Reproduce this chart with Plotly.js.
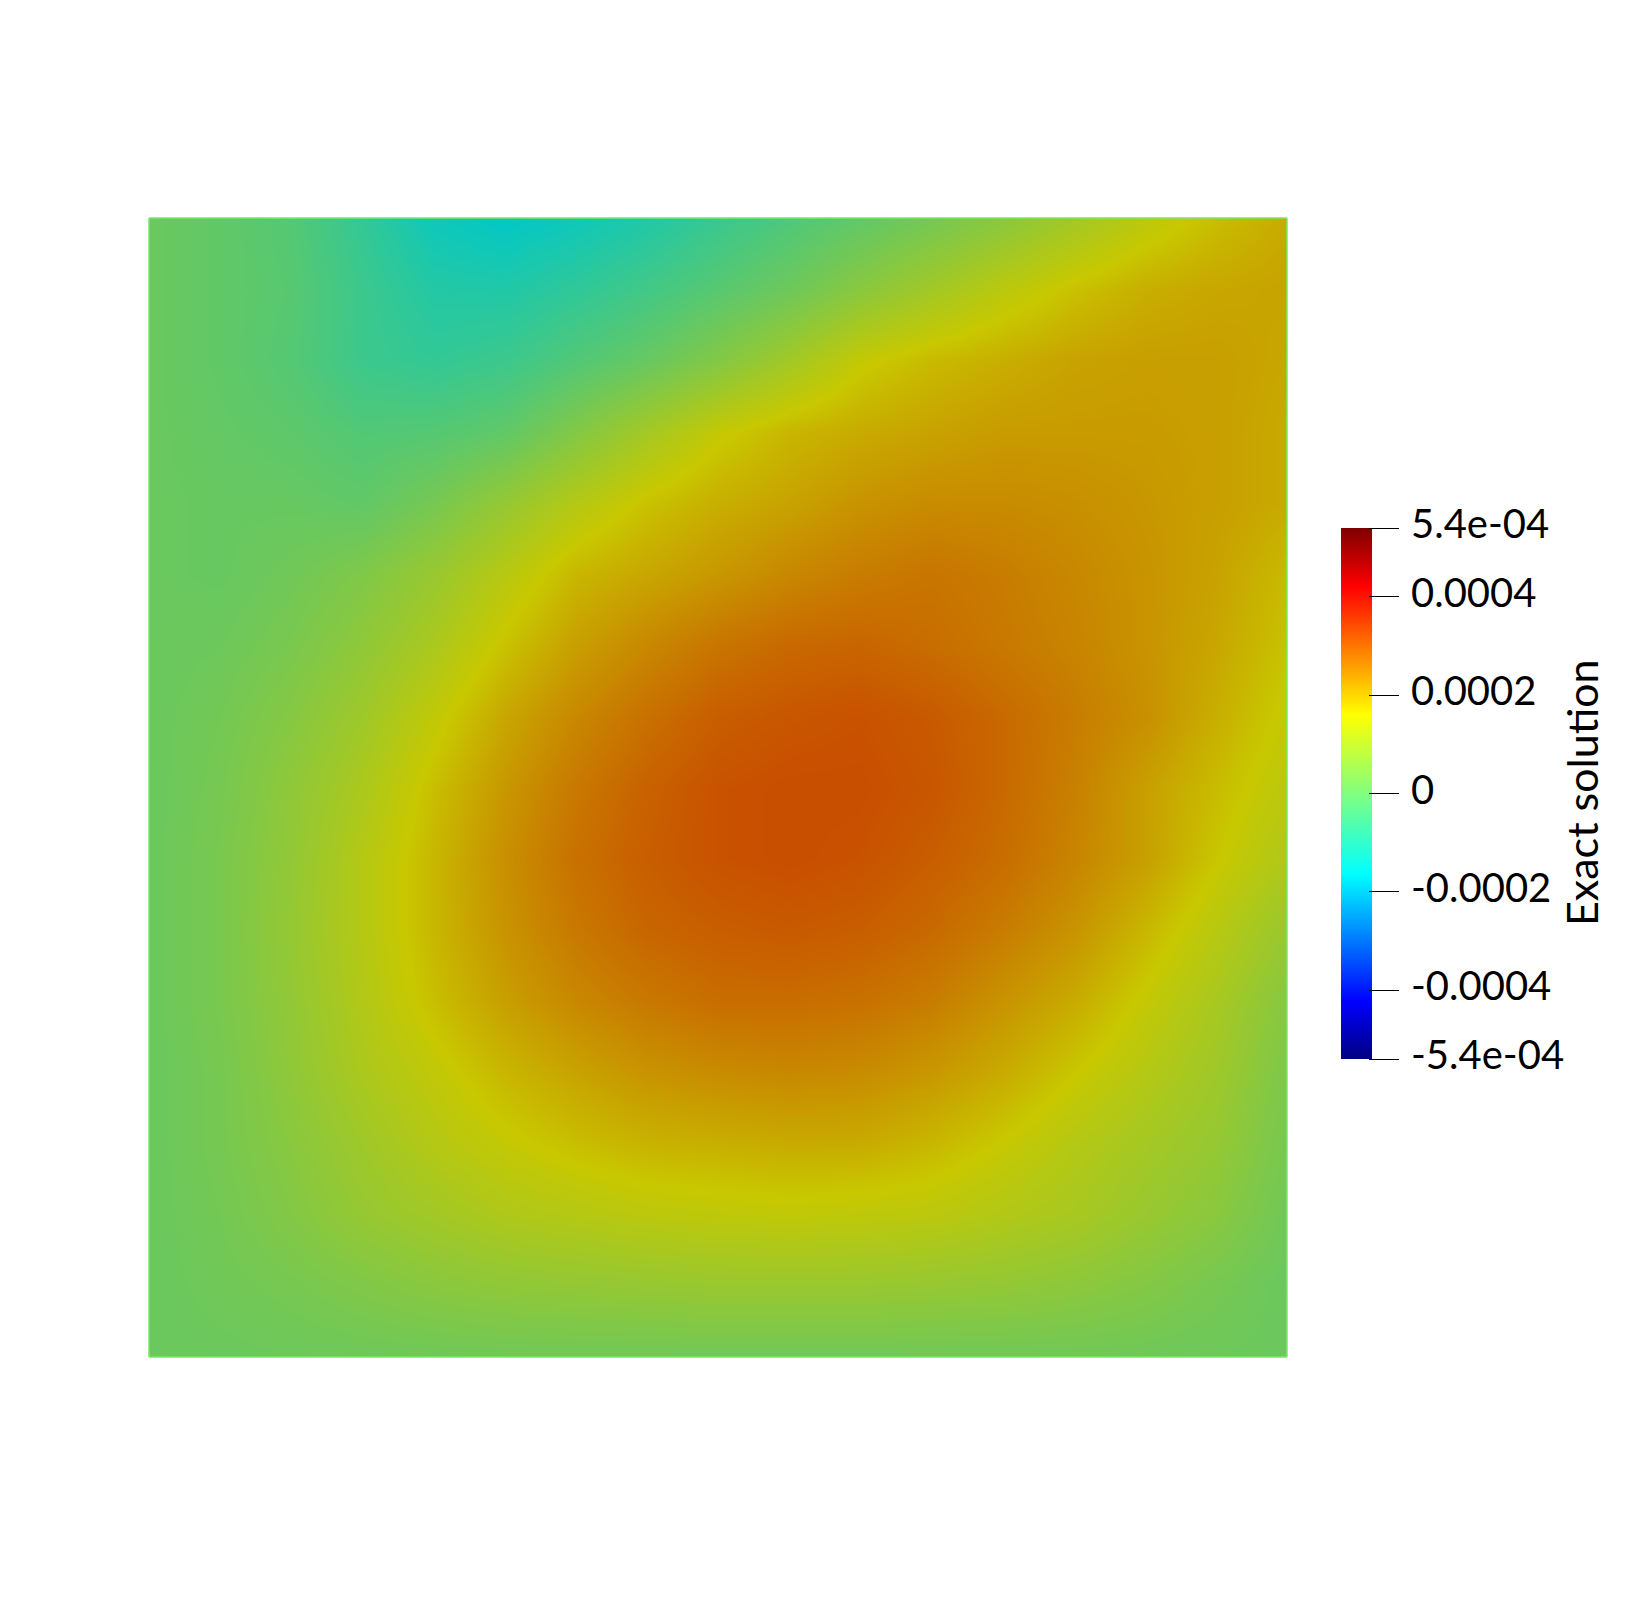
<!DOCTYPE html>
<html><head><meta charset="utf-8">
<script src="https://cdn.plot.ly/plotly-3.0.1.min.js"></script>
<style>html,body{margin:0;padding:0;background:#fff}#c{width:1644px;height:1610px}</style></head>
<body><div id="c"></div>
<script>
var gridX=[0,0.0625,0.125,0.1875,0.25,0.3125,0.375,0.4375,0.5,0.5625,0.625,0.6875,0.75,0.8125,0.875,0.9375,1];
var gridY=gridX.slice();
// values in units of 1e-4, bottom row first
var fieldRows=[
[.1,.12,.15,.17,.18,.2,.2,.2,.2,.2,.2,.2,.2,.2,.18,.15,.12],
[.1,.2,.3,.45,.6,.7,.75,.8,.85,.85,.85,.8,.75,.65,.5,.3,.1],
[.1,.25,.5,.8,1.0,1.2,1.3,1.4,1.45,1.5,1.45,1.4,1.25,1.1,.85,.6,.2],
[.1,.3,.6,.95,1.3,1.55,1.75,1.9,1.95,2.0,2.0,1.85,1.6,1.3,1.05,.8,.3],
[.1,.3,.7,1.15,1.5,1.85,2.1,2.3,2.4,2.45,2.4,2.25,2.0,1.65,1.3,.95,.4],
[.1,.35,.75,1.25,1.75,2.15,2.45,2.65,2.8,2.8,2.75,2.6,2.3,2.0,1.55,1.1,.55],
[.1,.35,.8,1.3,1.85,2.3,2.65,2.9,3.0,3.05,3.0,2.85,2.6,2.3,1.85,1.35,.85],
[.1,.35,.75,1.3,1.85,2.35,2.75,3.0,3.15,3.2,3.15,3.0,2.8,2.5,2.15,1.65,1.2],
[.1,.3,.7,1.15,1.75,2.25,2.65,2.95,3.15,3.2,3.2,3.1,2.85,2.55,2.15,1.78,1.4],
[.1,.25,.55,.95,1.5,2.05,2.45,2.75,3.0,3.1,3.15,3.05,2.85,2.6,2.35,1.95,1.55],
[.1,.15,.35,.7,1.15,1.7,2.15,2.45,2.7,2.85,2.9,2.8,2.65,2.5,2.3,2.05,1.7],
[.1,.05,.2,.45,.85,1.35,1.85,2.05,2.25,2.45,2.6,2.7,2.6,2.45,2.3,2.1,1.8],
[.1,.05,.05,-.05,.3,.8,1.3,1.7,1.95,2.1,2.3,2.4,2.4,2.35,2.25,2.15,2.0],
[.1,0,-.1,-.3,-.25,-.05,.5,1.05,1.55,1.85,2.0,2.1,2.2,2.2,2.2,2.15,2.0],
[.1,-.05,-.25,-.65,-.8,-.65,-.3,.05,.5,1.0,1.55,1.8,1.95,2.1,2.15,2.15,2.05],
[.1,-.05,-.2,-.65,-1.05,-1.1,-.85,-.55,-.2,.15,.6,1.0,1.4,1.7,1.95,2.05,2.1],
[.1,-.05,-.25,-.8,-1.4,-1.6,-1.4,-1.1,-.7,-.35,-.05,.25,.6,1.0,1.4,1.75,2.0]
];
var jetStops=[0,0.11,0.35,0.5,0.65,0.89,1];
var jetColors=[[0,0,128],[0,0,255],[0,255,255],[128,255,128],[255,255,0],[255,0,0],[128,0,0]];
var shade=0.784;
var barValues=[-5.4,-4.8,-4.2,-3.6,-3,-2.4,-1.8,-1.2,-.6,0,.6,1.2,1.8,2.4,3,3.6,4.2,4.8,5.4];
var tickVals=[5.4,4,2,0,-2,-4,-5.4];
var tickText=['5.4e-04','0.0004','0.0002','0','-0.0002','-0.0004','-5.4e-04'];
var FONT='Lato, sans-serif', W=1644, H=1610;
function cs(k){return jetStops.map(function(s,i){var c=jetColors[i];return [s,'rgb('+c.map(function(v){return Math.round(v*k)}).join(',')+')'];});}
var edge='rgb(120,232,100)';
var px={x0:149,x1:1287,y0:218,y1:1357};
function ln(a,b,c,d){return {type:'line',xref:'paper',yref:'paper',x0:a/W,x1:c/W,y0:1-b/H,y1:1-d/H,line:{color:edge,width:1.5},layer:'above'};}
Plotly.newPlot('c',[
 {type:'heatmap',x:gridX,y:gridY,z:fieldRows,zmin:-5.4,zmax:5.4,zsmooth:'best',colorscale:cs(shade),showscale:false,hoverinfo:'skip'},
 {type:'heatmap',x:[0,1],y:barValues,z:barValues.map(function(v){return [v,v]}),zmin:-5.4,zmax:5.4,zsmooth:'best',colorscale:cs(1),showscale:false,xaxis:'x2',yaxis:'y2',hoverinfo:'skip'}
],{
 width:W,height:H,margin:{l:0,r:0,t:0,b:0},paper_bgcolor:'#fff',plot_bgcolor:'#fff',showlegend:false,
 xaxis:{domain:[px.x0/W,px.x1/W],range:[0,1],visible:false,fixedrange:true},
 yaxis:{domain:[1-px.y1/H,1-px.y0/H],range:[0,1],visible:false,fixedrange:true},
 xaxis2:{domain:[1341/W,1372/W],range:[0,1],visible:false,anchor:'y2'},
 yaxis2:{domain:[1-1059/H,1-528/H],range:[-5.4,5.4],anchor:'free',position:1368/W,side:'right',
   tickmode:'array',tickvals:tickVals,ticktext:tickText,ticks:'outside',ticklen:30,tickwidth:1,tickcolor:'#000',
   showgrid:false,zeroline:false,showline:false,ticklabelstandoff:4,ticklabelshift:-4,tickfont:{family:FONT,size:40,color:'#000'}},
 shapes:[ln(149,218,1287,218),ln(1287,218,1287,1357),ln(149,1357,1287,1357),ln(149,218,149,1357)],
 annotations:[{xref:'paper',yref:'paper',x:1581/W,y:1-793/H,text:'Exact solution',textangle:-90,showarrow:false,xanchor:'center',yanchor:'middle',font:{family:FONT,size:43,color:'#000'}}]
},{staticPlot:true,displayModeBar:false});
</script></body></html>
